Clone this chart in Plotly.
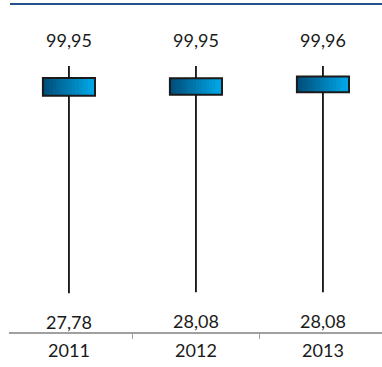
import plotly.graph_objects as go

years = ["2011", "2012", "2013"]
high_vals = [99.95, 99.95, 99.96]
low_vals = [27.78, 28.08, 28.08]
box_top = [96.1, 96.0, 96.6]
box_bottom = [90.5, 90.8, 91.6]

def fmt(v):
    return f"{v:.2f}".replace(".", ",")

xs = list(range(len(years)))
fig = go.Figure()

# whiskers (upper and lower segments)
wx, wy = [], []
for i in xs:
    wx += [i, i, None, i, i, None]
    wy += [high_vals[i], box_top[i], None, box_bottom[i], low_vals[i], None]
fig.add_trace(go.Scatter(x=wx, y=wy, mode="lines",
                         line=dict(color="#111111", width=1.8),
                         hoverinfo="skip", showlegend=False))

# gradient box built from slices
box_w = 0.41
n = 16
c0 = (0, 78, 122)
c1 = (0, 168, 232)
heights = [t - b for t, b in zip(box_top, box_bottom)]
for k in range(n):
    f = k / (n - 1)
    col = "rgb({},{},{})".format(*[round(a + (b - a) * f) for a, b in zip(c0, c1)])
    sw = box_w / n
    fig.add_trace(go.Bar(x=xs, y=heights, base=box_bottom,
                         width=sw * (1.6 if k < n - 1 else 1.0),
                         offset=-box_w / 2 + k * sw,
                         marker=dict(color=col, line=dict(width=0)),
                         hoverinfo="skip", showlegend=False))
# outline
fig.add_trace(go.Bar(x=xs, y=heights, base=box_bottom, width=box_w,
                     offset=-box_w / 2,
                     marker=dict(color="rgba(0,0,0,0)",
                                 line=dict(color="#1a1a1a", width=2)),
                     hoverinfo="skip", showlegend=False))

font = dict(family="Lato, 'Noto Sans', sans-serif", size=18, color="#1a1a1a")
for i in xs:
    fig.add_annotation(x=i, y=high_vals[i], text=fmt(high_vals[i]), showarrow=False,
                       yanchor="middle", yshift=26, font=font)
    fig.add_annotation(x=i, y=low_vals[i], text=fmt(low_vals[i]), showarrow=False,
                       yanchor="middle", yshift=-28.5, font=font)

# top blue rule
fig.add_shape(type="line", xref="paper", yref="paper", x0=10 / 382, x1=1, y0=1, y1=1,
              line=dict(color="#24508c", width=2))

fig.update_layout(
    width=382, height=367,
    margin=dict(l=0, r=0, t=4, b=35),
    paper_bgcolor="white", plot_bgcolor="white",
    barmode="overlay", bargap=0,
    showlegend=False,
    xaxis=dict(domain=[9 / 382, 1], range=[-0.472, 2.465],
               tickmode="array", tickvals=xs, ticktext=years,
               ticks="", showgrid=False, zeroline=False,
               showline=True, linecolor="#a0a0a0", linewidth=1.5,
               tickfont=font, ticklabelstandoff=2,
               minor=dict(tickmode="array", tickvals=[0.5, 1.5], ticks="outside",
                          ticklen=5, tickcolor="#a0a0a0", tickwidth=1, showgrid=False)),
    yaxis=dict(range=[15.5, 119.6], visible=False, showgrid=False, zeroline=False),
)

fig.write_html("out.html",
               config={"displayModeBar": False, "staticPlot": True},
               post_script="document.body.style.margin='0';document.body.style.overflow='hidden';")
